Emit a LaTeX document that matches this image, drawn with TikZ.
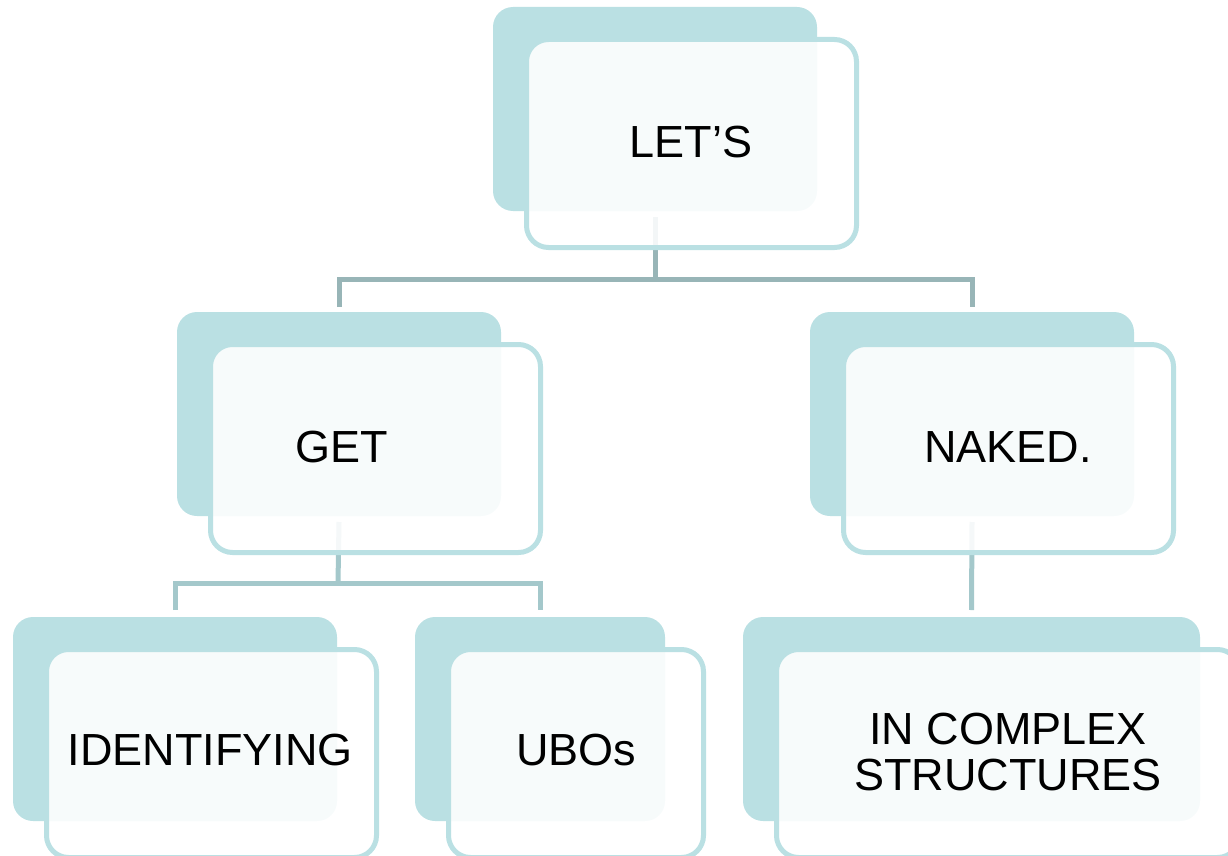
\documentclass[tikz,border=0pt]{standalone}
\usepackage{fontspec}
\setmainfont{Liberation Sans}
\usetikzlibrary{positioning}
\definecolor{smTeal}{HTML}{BAE0E3}
\definecolor{smLinkDark}{HTML}{98B5B7}
\definecolor{smLinkLight}{HTML}{A4C8CB}

\begin{document}
\begin{tikzpicture}[
  x=1pt,y=-1pt,
  backbox/.style={
    fill=smTeal,
    rounded corners=20pt,
    inner sep=0pt,
    outer sep=0pt,
    minimum height=204pt,
    minimum width=#1,
    anchor=north west
  },
  backbox/.default=324pt,
  frontbox/.style={
    draw=smTeal,
    line width=5pt,
    fill=white,
    fill opacity=0.89,
    rounded corners=22pt,
    inner sep=0pt,
    outer sep=0pt,
    minimum height=208pt,
    minimum width=#1
  },
  frontbox/.default=330pt,
  uplink/.style={line width=5pt,smLinkDark},
  lowlink/.style={line width=5pt,smLinkLight},
  word/.style={font=\fontsize{45}{46}\selectfont,align=center,inner sep=0pt}
]
  \useasboundingbox (0,0) rectangle (1228,856);

  % back plates
  \node[backbox] (letsback) at (493,7) {};
  \node[backbox] (getback) at (177,312) {};
  \node[backbox] (nakedback) at (810,312) {};
  \node[backbox] (identback) at (13,617) {};
  \node[backbox=250pt] (ubosback) at (415,617) {};
  \node[backbox=457pt] (cplxback) at (743,617) {};

  % connectors
  \coordinate (split1) at (655,279);
  \coordinate (split2) at (338,583);
  \draw[uplink] ([yshift=-6pt]letsback.south)--(split1);
  \draw[uplink] ([yshift=5pt]getback.north)|-(split1)-|([yshift=5pt]nakedback.north);
  \draw[lowlink] ([yshift=-6pt]getback.south)--(split2);
  \draw[lowlink] ([yshift=7pt]identback.north)|-(split2)-|([yshift=7pt]ubosback.north);
  \draw[lowlink] ([yshift=-6pt]nakedback.south)--([yshift=7pt]cplxback.north);

  % front cards
  \node[frontbox,below right=32.5pt and 33.5pt of letsback.north west] (lets) {};
  \node[frontbox,below right=32.5pt and 33.5pt of getback.north west] (get) {};
  \node[frontbox,below right=32.5pt and 33.5pt of nakedback.north west] (naked) {};
  \node[frontbox,below right=32.5pt and 33.5pt of identback.north west] (ident) {};
  \node[frontbox=255pt,below right=32.5pt and 33.5pt of ubosback.north west] (ubos) {};
  \node[frontbox=463pt,below right=32.5pt and 33.5pt of cplxback.north west] (cplx) {};

  % texts
  \node[word] (letsT) at (691,142) {LET’S};
  \node[word] (getT) at (342,447) {GET};
  \node[word] (nakedT) at (1008,447) {NAKED.};
  \node[word] (identT) at (210,750) {IDENTIFYING};
  \node[word] (ubosT) at (576,750) {UBOs};
  \node[word] (cplxT) at (1008,752) {IN COMPLEX\\STRUCTURES};
\end{tikzpicture}
\end{document}
